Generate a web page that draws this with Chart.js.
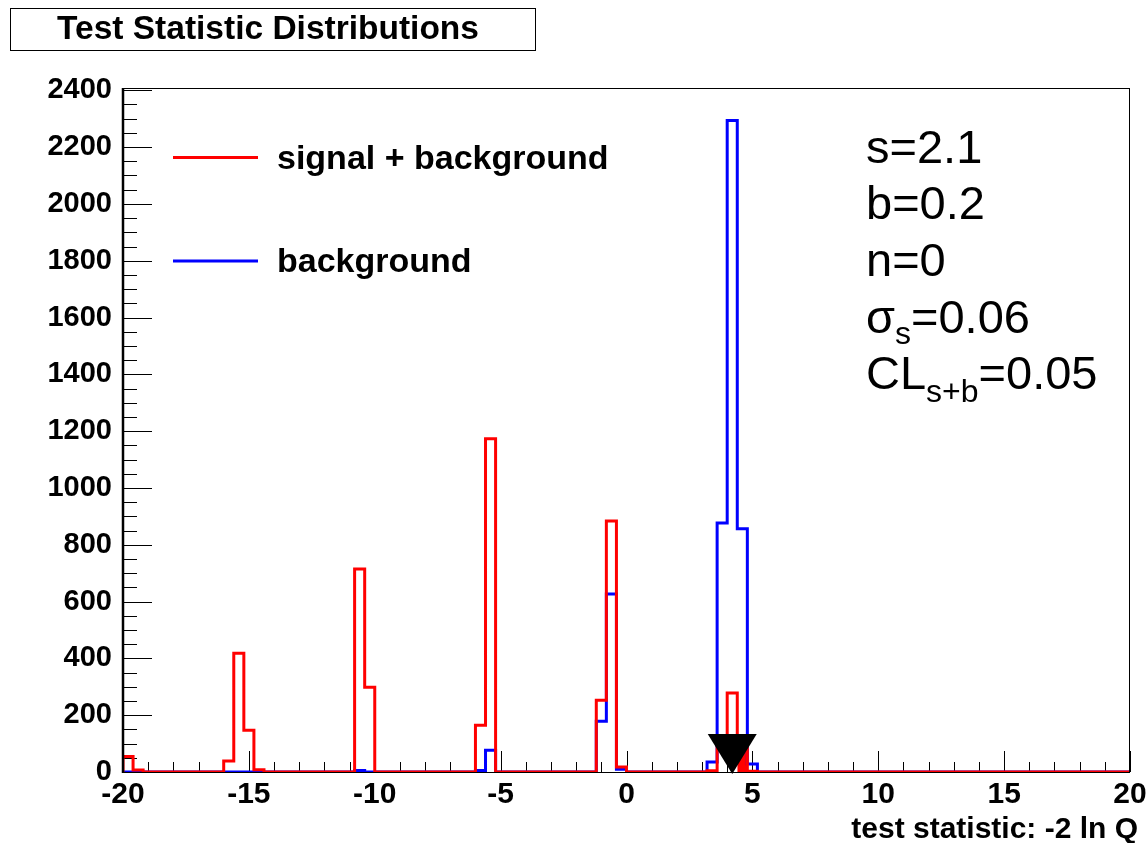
<!DOCTYPE html>
<html><head><meta charset="utf-8">
<script src="https://cdn.jsdelivr.net/npm/chart.js@4"></script>
<style>html,body{margin:0;padding:0;background:#fff}canvas{display:block}</style>
</head><body>
<canvas id="c" width="1147" height="843"></canvas>
<script>
// ---------- data ----------
const binLow = -20;
const binWidth = 0.4;
// signal + background counts, 100 bins of 0.4 from -20 to 20
const sbCounts = [
  55, 7, 0, 0, 0, 0, 0, 0, 0, 0,
  39, 418, 147, 8, 0, 0, 0, 0, 0, 0,
  0, 0, 0, 715, 298, 0, 0, 0, 0, 0,
  0, 0, 0, 0, 0, 165, 1173, 0, 0, 0,
  0, 0, 0, 0, 0, 0, 0, 253, 884, 18,
  0, 0, 0, 0, 0, 0, 0, 0, 4, 108,
  278, 105, 3, 0, 0, 0, 0, 0, 0, 0,
  0, 0, 0, 0, 0, 0, 0, 0, 0, 0,
  0, 0, 0, 0, 0, 0, 0, 0, 0, 0,
  0, 0, 0, 0, 0, 0, 0, 0, 0, 0
];
// background-only counts
const bCounts = [
  0, 0, 0, 0, 0, 0, 0, 0, 0, 0,
  0, 0, 0, 0, 0, 0, 0, 0, 0, 0,
  0, 0, 0, 5, 0, 0, 0, 0, 0, 0,
  0, 0, 0, 0, 0, 5, 77, 0, 0, 0,
  0, 0, 0, 0, 0, 0, 0, 179, 627, 10,
  0, 0, 0, 0, 0, 0, 0, 0, 35, 877,
  2294, 856, 28, 0, 0, 0, 0, 0, 0, 0,
  0, 0, 0, 0, 0, 0, 0, 0, 0, 0,
  0, 0, 0, 0, 0, 0, 0, 0, 0, 0,
  0, 0, 0, 0, 0, 0, 0, 0, 0, 0
];
const observedValue = 4.2;
const xTickValues = [-20, -15, -10, -5, 0, 5, 10, 15, 20];
const yTickValues = [0, 200, 400, 600, 800, 1000, 1200, 1400, 1600, 1800, 2000, 2200, 2400];
const legendLabels = ['signal + background', 'background'];
const seriesColors = ['#ff0000', '#0000ff'];
const titleText = 'Test Statistic Distributions';
const xAxisTitle = 'test statistic: -2 ln Q';
const statLines = [
  [{t: 's=2.1'}],
  [{t: 'b=0.2'}],
  [{t: 'n=0'}],
  [{t: '\u03c3'}, {t: 's', sub: true}, {t: '=0.06'}],
  [{t: 'CL'}, {t: 's+b', sub: true}, {t: '=0.05'}]
];

// ---------- build histogram outlines from the counts ----------
function histPoints(counts) {
  const pts = [{x: binLow, y: 0}];
  counts.forEach((c, i) => pts.push({x: binLow + i * binWidth, y: c}));
  const hi = binLow + counts.length * binWidth;
  pts.push({x: hi, y: counts[counts.length - 1]});
  pts.push({x: hi, y: 0});
  return pts;
}
function tailPoints(counts, from) {
  const pts = [];
  counts.forEach((c, i) => {
    const lo = binLow + i * binWidth;
    if (lo >= from - 1e-9 && c > 0) {
      pts.push({x: lo, y: c});
      pts.push({x: lo + binWidth, y: c});
    }
  });
  return pts;
}

const FONT = '"Liberation Sans", Arial, Helvetica, sans-serif';

const decorPlugin = {
  id: 'decor',
  beforeDatasetsDraw(chart) {
    const {ctx, chartArea: a, scales: {x, y}} = chart;
    ctx.save();
    ctx.strokeStyle = '#000';
    ctx.lineWidth = 1;
    ctx.beginPath();
    // y ticks inside frame: majors 200, minors 50
    for (let v = 0; v <= 2400 + 1e-6; v += 50) {
      const py = Math.round(y.getPixelForValue(v)) + 0.5;
      const len = (v % 200 === 0) ? 29 : 14;
      ctx.moveTo(a.left, py); ctx.lineTo(a.left + len, py);
    }
    // x ticks inside frame: majors 5, minors 1
    for (let v = -20; v <= 20; v += 1) {
      const px = Math.round(x.getPixelForValue(v)) + 0.5;
      const len = (v % 5 === 0) ? 21 : 10;
      ctx.moveTo(px, a.bottom); ctx.lineTo(px, a.bottom - len);
    }
    ctx.stroke();
    ctx.restore();
  },
  afterDatasetsDraw(chart) {
    const {ctx, chartArea: a, scales: {x, y}} = chart;
    ctx.save();
    // frame
    ctx.strokeStyle = '#000';
    ctx.lineWidth = 1;
    ctx.strokeRect(a.left + 0.5, a.top + 0.5, a.right - a.left - 1, a.bottom - a.top);
    ctx.lineWidth = 2.5;
    ctx.beginPath();
    ctx.moveTo(a.left, a.top); ctx.lineTo(a.left, a.bottom + 1);
    ctx.stroke();

    // observed-value arrow
    const ox = x.getPixelForValue(observedValue);
    const ob = y.getPixelForValue(0);
    ctx.fillStyle = '#000';
    ctx.beginPath();
    ctx.moveTo(ox - 24.5, ob - 38);
    ctx.lineTo(ox + 24.5, ob - 38);
    ctx.lineTo(ox, ob + 2);
    ctx.closePath();
    ctx.fill();

    // title box
    ctx.lineWidth = 1;
    ctx.strokeStyle = '#000';
    ctx.strokeRect(10.5, 8.5, 525, 42);
    ctx.fillStyle = '#000';
    ctx.font = 'bold 33.5px ' + FONT;
    ctx.textAlign = 'center';
    ctx.textBaseline = 'middle';
    ctx.fillText(titleText, 268, 30);

    // legend
    const legY = [157.5, 261];
    ctx.lineWidth = 3;
    legendLabels.forEach((lab, i) => {
      ctx.strokeStyle = seriesColors[i];
      ctx.beginPath();
      ctx.moveTo(173, legY[i]); ctx.lineTo(258, legY[i]);
      ctx.stroke();
      ctx.fillStyle = '#000';
      ctx.font = 'bold 34px ' + FONT;
      ctx.textAlign = 'left';
      ctx.textBaseline = 'alphabetic';
      ctx.fillText(lab, 277, legY[i] + 11);
    });

    // statistics text
    const baselines = [163, 219, 276, 333, 389];
    const subDrop = [0, 0, 0, 11, 13];
    ctx.textAlign = 'left';
    ctx.textBaseline = 'alphabetic';
    statLines.forEach((parts, li) => {
      let cx = 866;
      parts.forEach(p => {
        if (p.sub) {
          ctx.font = '32px ' + FONT;
          ctx.fillText(p.t, cx, baselines[li] + subDrop[li]);
        } else {
          ctx.font = '47px ' + FONT;
          ctx.fillText(p.t, cx, baselines[li]);
        }
        cx += ctx.measureText(p.t).width;
      });
    });

    // x-axis title
    ctx.font = 'bold 30px ' + FONT;
    ctx.textAlign = 'right';
    ctx.textBaseline = 'alphabetic';
    ctx.fillText(xAxisTitle, 1138, 838);
    ctx.restore();
  }
};

new Chart(document.getElementById('c'), {
  type: 'line',
  data: {
    datasets: [
      {
        label: legendLabels[0],
        data: histPoints(sbCounts),
        borderColor: seriesColors[0],
        borderWidth: 3,
        stepped: 'before',
        pointRadius: 0,
        fill: false,
        order: 0,
        borderJoinStyle: 'miter'
      },
      {
        label: legendLabels[1],
        data: histPoints(bCounts),
        borderColor: seriesColors[1],
        borderWidth: 3,
        stepped: 'before',
        pointRadius: 0,
        fill: false,
        order: 1,
        borderJoinStyle: 'miter'
      },
      {
        label: 'tail',
        data: tailPoints(sbCounts, observedValue),
        borderWidth: 0,
        borderColor: 'rgba(0,0,0,0)',
        backgroundColor: seriesColors[0],
        pointRadius: 0,
        fill: 'origin',
        order: 2
      }
    ]
  },
  options: {
    responsive: false,
    animation: false,
    devicePixelRatio: 1,
    layout: {padding: {top: 88, right: 17, left: 0, bottom: 0}},
    plugins: {legend: {display: false}, tooltip: {enabled: false}, title: {display: false}},
    scales: {
      x: {
        type: 'linear',
        min: -20, max: 20,
        afterFit(s) { s.height = 71; s.paddingLeft = 0; s.paddingRight = 0; },
        afterBuildTicks(s) { s.ticks = xTickValues.map(v => ({value: v})); },
        grid: {display: false, drawTicks: false},
        border: {display: false},
        ticks: {
          padding: 5,
          color: '#000',
          font: {family: FONT, size: 30, weight: 'bold'},
          maxRotation: 0,
          autoSkip: false,
          callback: v => String(v)
        }
      },
      y: {
        type: 'linear',
        min: 0, max: 2408,
        afterFit(s) { s.width = 123; s.paddingTop = 0; s.paddingBottom = 0; },
        afterBuildTicks(s) { s.ticks = yTickValues.map(v => ({value: v})); },
        grid: {display: false, drawTicks: false},
        border: {display: false},
        ticks: {
          padding: 11,
          color: '#000',
          font: {family: FONT, size: 29, weight: 'bold'},
          autoSkip: false,
          callback: v => String(v)
        }
      }
    }
  },
  plugins: [decorPlugin]
});
</script>
</body></html>
